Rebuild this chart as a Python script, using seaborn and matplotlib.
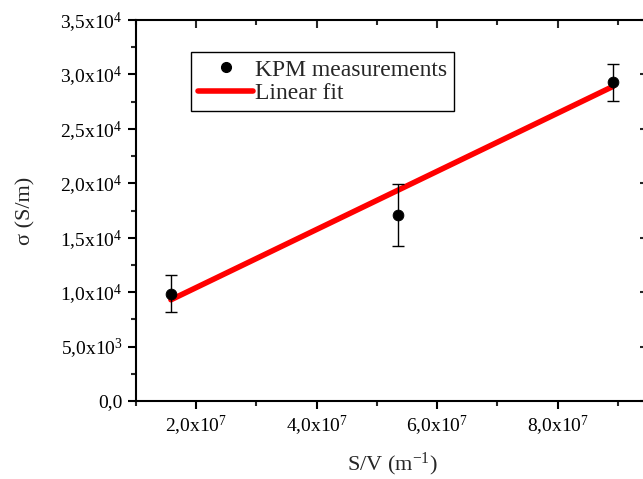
import matplotlib
matplotlib.use("Agg")
import matplotlib.pyplot as plt
import seaborn as sns
import numpy as np
from matplotlib.lines import Line2D
from matplotlib.ticker import MultipleLocator, FuncFormatter

# data
sv = [1.58e7, 5.35e7, 8.92e7]            # S/V (m^-1)
sigma = [9.85e3, 1.71e4, 2.93e4]         # conductivity (S/m)
sigma_err = [1.7e3, 2.85e3, 1.7e3]
fit_x = [1.58e7, 8.92e7]                 # linear fit end points
fit_y = [9.3e3, 2.89e4]

sns.set_theme(style="ticks")
plt.rcParams["font.family"] = ["Liberation Serif", "DejaVu Serif"]
plt.rcParams["mathtext.fontset"] = "custom"
plt.rcParams["mathtext.rm"] = "Liberation Serif"
plt.rcParams["mathtext.it"] = "Liberation Serif:italic"


def sci(v, pos):
    if v == 0:
        return "0,0"
    e = int(np.floor(np.log10(abs(v)) + 1e-9))
    m = f"{v / 10**e:.1f}".replace(".", ",")
    return m + "x10$^{" + str(e) + "}$"


fig = plt.figure(figsize=(6.43, 4.79), dpi=100)
ax = fig.add_axes([136 / 643, 78 / 479, 512 / 643, 381 / 479])

sns.lineplot(x=fit_x, y=fit_y, color="#ff0000", linewidth=4, ax=ax,
             zorder=2)
ax.errorbar(sv, sigma, yerr=sigma_err, fmt="none", ecolor="black",
            elinewidth=1, capsize=4.5, capthick=1, zorder=3)
sns.scatterplot(x=sv, y=sigma, color="black", s=60, edgecolor="black",
                ax=ax, zorder=4)

ax.set_xlim(1.0e7, 9.5e7)
ax.set_ylim(0, 3.5e4)
ax.xaxis.set_major_locator(MultipleLocator(2e7))
ax.xaxis.set_minor_locator(MultipleLocator(1e7))
ax.yaxis.set_major_locator(MultipleLocator(5e3))
ax.yaxis.set_minor_locator(MultipleLocator(2.5e3))
ax.xaxis.set_major_formatter(FuncFormatter(sci))
ax.yaxis.set_major_formatter(FuncFormatter(sci))
ax.tick_params(which="major", direction="out", length=6, width=1.5,
               labelsize=14, colors="black")
ax.tick_params(which="minor", direction="out", length=3.5, width=1.5)
for s in ax.spines.values():
    s.set_linewidth(1.5)
    s.set_color("black")

# mirrored ticks pointing inward on top and right
top = ax.secondary_xaxis("top")
top.xaxis.set_major_locator(MultipleLocator(2e7))
top.xaxis.set_minor_locator(MultipleLocator(1e7))
top.tick_params(which="major", direction="in", length=6, width=1.5,
                labeltop=False)
top.tick_params(which="minor", direction="in", length=3.5, width=1.5)
right = ax.secondary_yaxis("right")
right.yaxis.set_major_locator(MultipleLocator(5e3))
right.yaxis.set_minor_locator(MultipleLocator(2.5e3))
right.tick_params(which="major", direction="in", length=6, width=1.5,
                  labelright=False)
right.tick_params(which="minor", direction="in", length=3.5, width=1.5)

ax.set_xlabel("S/V (m$^{-1}$)", fontsize=16, labelpad=9)
ax.set_ylabel("σ (S/m)", fontsize=16, labelpad=18)

handles = [
    Line2D([], [], marker="o", color="black", linestyle="none",
           markersize=7),
    Line2D([], [], color="#ff0000", linewidth=4),
]
leg = ax.legend(handles, ["KPM measurements", "Linear fit"],
                loc="upper left", bbox_to_anchor=(0.108, 0.916),
                borderaxespad=0, fontsize=17, handlelength=2.3,
                handletextpad=0.1, borderpad=0.3, labelspacing=0.08,
                fancybox=False, framealpha=1, edgecolor="black")
leg.get_frame().set_linewidth(1)

fig.savefig("out.png", dpi=100, facecolor="white")
